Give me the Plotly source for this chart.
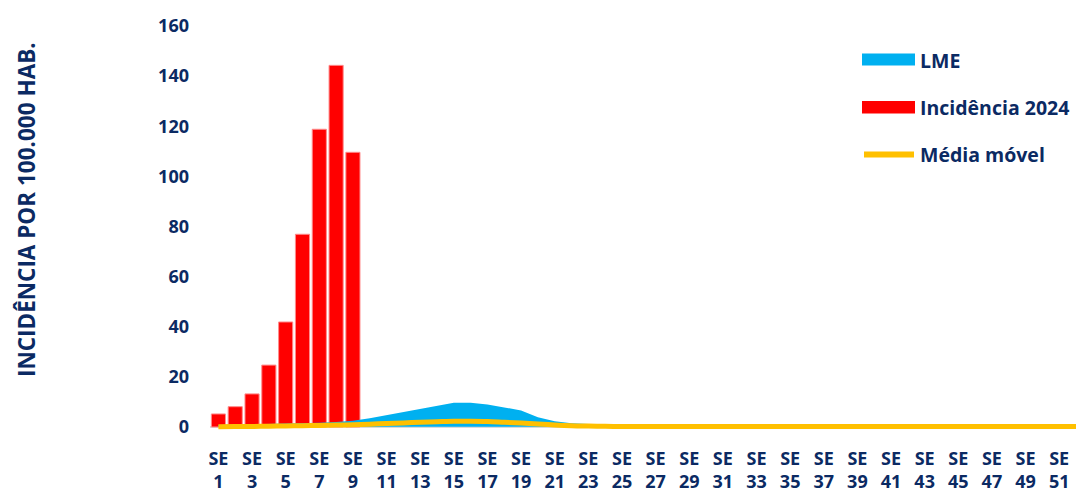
import plotly.graph_objects as go

# Epidemiological weeks
semanas = [f"SE {i}" for i in range(1, 53)]
tick_semanas = [f"SE {i}" for i in range(1, 53, 2)]
tick_textos = [f"SE<br>{i}" for i in range(1, 53, 2)]

# Incidence per 100,000 inhabitants, 2024 (weeks 1-9)
incidencia_2024 = [5.2, 8.1, 13.2, 24.7, 41.9, 76.9, 118.8, 144.3, 109.6]

# Epidemic limit band (LME): upper and lower bounds
lme_superior = [0.8, 0.9, 1.0, 1.1, 1.3, 1.5, 1.7, 2.0, 2.5, 3.5,
                4.7, 6.0, 7.2, 8.5, 9.7, 9.7, 9.0, 7.8, 6.6, 3.9,
                2.3, 1.5, 1.1, 0.8, 0.6, 0.5, 0.4, 0.4, 0.4, 0.4,
                0.4, 0.4, 0.4, 0.4, 0.4, 0.4, 0.4, 0.4, 0.4, 0.4,
                0.4, 0.4, 0.4, 0.4, 0.4, 0.4, 0.4, 0.4, 0.4, 0.4,
                0.4, 0.4]
lme_inferior = [0.1, 0.1, 0.1, 0.1, 0.1, 0.1, 0.1, 0.2, 0.2, 0.2,
                0.3, 0.3, 0.3, 0.3, 0.3, 0.3, 0.3, 0.3, 0.3, 0.2,
                0.2, 0.1, 0.1, 0.1, 0.1, 0.1, 0.1, 0.1, 0.1, 0.1,
                0.1, 0.1, 0.1, 0.1, 0.1, 0.1, 0.1, 0.1, 0.1, 0.1,
                0.1, 0.1, 0.1, 0.1, 0.1, 0.1, 0.1, 0.1, 0.1, 0.1,
                0.1, 0.1]

# Moving average
media_movel = [0.1, 0.15, 0.2, 0.3, 0.4, 0.5, 0.6, 0.75, 0.9, 1.1,
               1.4, 1.6, 1.9, 2.1, 2.3, 2.3, 2.2, 1.9, 1.6, 1.2,
               0.8, 0.5, 0.35, 0.25, 0.2, 0.2, 0.15, 0.15, 0.15, 0.15,
               0.15, 0.15, 0.15, 0.15, 0.15, 0.15, 0.15, 0.15, 0.15, 0.15,
               0.15, 0.15, 0.15, 0.15, 0.15, 0.15, 0.15, 0.15, 0.15, 0.15,
               0.15, 0.15]

AZUL = "#00B0F0"
VERMELHO = "#FF0000"
AMARELO = "#FFC000"
TEXTO = "#0B2A63"
FONTE = "Open Sans"

W, H = 1078, 496
ML, MR, MT, MB = 210, 2, 26, 64
PW, PH = W - ML - MR, H - MT - MB


def px(x):
    return (x - ML) / PW


def py(y):
    return (H - MB - y) / PH


fig = go.Figure()

fig.add_trace(go.Scatter(x=semanas, y=lme_inferior, mode="lines",
                         line=dict(width=0, color=AZUL), showlegend=False,
                         hoverinfo="skip"))
fig.add_trace(go.Scatter(x=semanas, y=lme_superior, mode="lines",
                         line=dict(width=0, color=AZUL), fill="tonexty",
                         fillcolor=AZUL, name="LME", showlegend=False))
fig.add_trace(go.Bar(x=semanas[:len(incidencia_2024)], y=incidencia_2024,
                     marker=dict(color=VERMELHO,
                                 line=dict(color="rgba(255,140,140,1)", width=1)),
                     name="Incidência 2024", showlegend=False))
fig.add_trace(go.Scatter(x=semanas, y=media_movel, mode="lines",
                         line=dict(color=AMARELO, width=5, shape="spline"),
                         name="Média móvel", showlegend=False))

# Legend drawn as shapes + labels
shapes = [
    dict(type="rect", xref="paper", yref="paper",
         x0=px(862), x1=px(915), y0=py(65.5), y1=py(53.5),
         fillcolor=AZUL, line=dict(width=0)),
    dict(type="rect", xref="paper", yref="paper",
         x0=px(862), x1=px(915), y0=py(113.5), y1=py(101),
         fillcolor=VERMELHO, line=dict(width=0)),
    dict(type="line", xref="paper", yref="paper",
         x0=px(864), x1=px(914), y0=py(154.5), y1=py(154.5),
         line=dict(color=AMARELO, width=6)),
]
annotations = [
    dict(text="<b>LME</b>", x=px(918), y=py(60), xanchor="left",
         yanchor="middle"),
    dict(text="<b>Incidência 2024</b>", x=px(918), y=py(107), xanchor="left",
         yanchor="middle"),
    dict(text="<b>Média móvel</b>", x=px(918), y=py(154), xanchor="left",
         yanchor="middle"),
]
for a in annotations:
    a.update(xref="paper", yref="paper", showarrow=False,
             font=dict(family=FONTE, size=19.5, color=TEXTO))

annotations.append(dict(
    text="<b>INCIDÊNCIA POR 100.000 HAB.</b>", textangle=-90,
    xref="paper", yref="paper", x=px(26), y=py(210),
    xanchor="center", yanchor="middle", showarrow=False,
    font=dict(family=FONTE, size=22.5, color=TEXTO)))

fig.update_layout(
    width=W, height=H,
    margin=dict(l=ML, r=MR, t=MT, b=MB),
    paper_bgcolor="white", plot_bgcolor="white",
    bargap=0.16,
    shapes=shapes, annotations=annotations,
    showlegend=False,
    font=dict(family=FONTE, color=TEXTO),
)
fig.update_xaxes(
    type="category", categoryorder="array", categoryarray=semanas,
    tickmode="array", tickvals=tick_semanas, ticktext=tick_textos,
    tickangle=0, showgrid=False, showline=False, zeroline=False,
    tickfont=dict(family=FONTE, size=18, color=TEXTO, weight="bold"),
    ticklabelstandoff=14, ticks="",
)
fig.update_yaxes(
    range=[-2, 160], tickvals=list(range(0, 161, 20)),
    showgrid=False, showline=False, zeroline=True,
    zerolinecolor="#D9D9D9", zerolinewidth=2,
    tickfont=dict(family=FONTE, size=18, color=TEXTO, weight="bold"),
    ticklabelstandoff=20, ticks="",
)

fig.write_html("out.html")
